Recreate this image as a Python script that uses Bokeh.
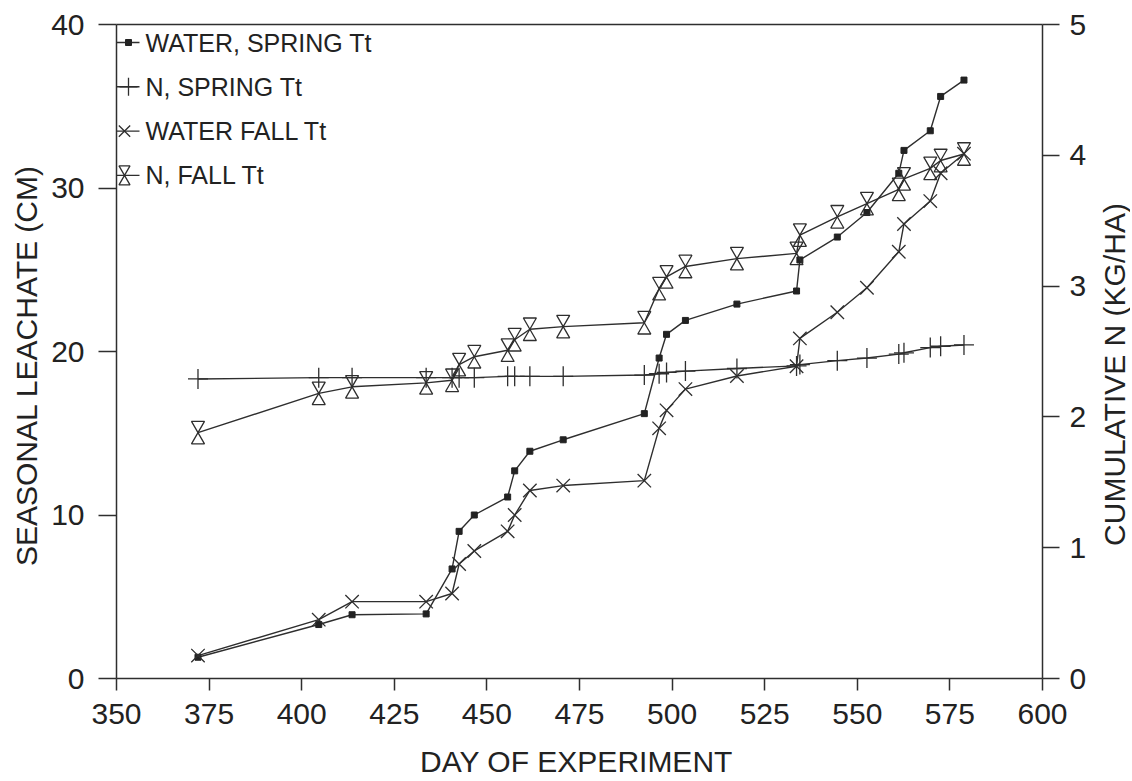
import math
from bokeh.plotting import figure
from bokeh.models import Range1d, LinearAxis, FixedTicker, Label
from bokeh.embed import file_html
from bokeh.resources import INLINE
from bokeh.core.properties import value

# ---------------- data ----------------
days = [372, 404.6, 413.6, 433.6, 440.6, 442.5, 446.6, 455.6, 457.5, 461.6,
        470.6, 492.5, 496.5, 498.5, 503.6, 517.5, 533.6, 534.5, 544.6, 552.6,
        561.2, 562.6, 569.7, 572.5, 578.8]

water_spring = [1.3, 3.3, 3.9, 3.95, 6.7, 9.0, 10.0, 11.1, 12.7, 13.9,
                14.6, 16.2, 19.6, 21.05, 21.9, 22.9, 23.7, 25.6, 27.0, 28.5,
                30.9, 32.3, 33.5, 35.6, 36.6]

n_spring = [2.29, 2.30, 2.30, 2.30, 2.30, 2.30, 2.30, 2.31, 2.31, 2.31,
            2.31, 2.32, 2.33, 2.34, 2.35, 2.37, 2.39, 2.40, 2.43, 2.45,
            2.48, 2.49, 2.53, 2.54, 2.55]

water_fall = [1.4, 3.6, 4.7, 4.7, 5.2, 7.0, 7.8, 9.0, 10.0, 11.5,
              11.8, 12.1, 15.3, 16.4, 17.7, 18.5, 19.1, 20.8, 22.4, 23.9,
              26.1, 27.8, 29.2, 30.9, 32.1]

n_fall = [1.88, 2.18, 2.23, 2.26, 2.28, 2.40, 2.46, 2.51, 2.59, 2.67,
          2.69, 2.72, 2.98, 3.07, 3.15, 3.21, 3.25, 3.39, 3.53, 3.63,
          3.74, 3.82, 3.90, 3.96, 4.01]

x_ticks = [350, 375, 400, 425, 450, 475, 500, 525, 550, 575, 600]
left_ticks = [0, 10, 20, 30, 40]
right_ticks = [0, 1, 2, 3, 4, 5]
legend_labels = ["WATER, SPRING Tt", "N, SPRING Tt", "WATER FALL Tt", "N, FALL Tt"]
x_title = "DAY OF EXPERIMENT"
left_title = "SEASONAL LEACHATE (CM)"
right_title = "CUMULATIVE N (KG/HA)"

# ---------------- layout ----------------
# The whole canvas is the frame; the axes sit at fixed data locations
# around the 350..600 x 0..40 data box.
W, H = 1130, 780                 # canvas size
BL, BT, PW, PH = 116, 24, 926, 654   # data box: left, top, width, height (px)
X0, X1 = 350, 600
Y0, Y1 = 0, 40
R0, R1 = 0, 5
dx = (X1 - X0) / PW
dy = (Y1 - Y0) / PH
dr = (R1 - R0) / PH
BB = H - BT - PH                 # px below the data box


def xd(px):
    return X0 + (px - BL) * dx


def yd(py):
    return Y1 - (py - BT) * dy


INK = "#222222"
LINE = "#2e2e2e"
FONT = "Liberation Sans"

p = figure(frame_width=W, frame_height=H,
           x_range=Range1d(X0 - BL * dx, X0 + (W - BL) * dx),
           y_range=Range1d(Y0 - BB * dy, Y1 + BT * dy),
           output_backend="svg", toolbar_location=None,
           min_border_left=0, min_border_top=0,
           min_border_right=0, min_border_bottom=0,
           background_fill_color="white", border_fill_color="white",
           outline_line_color=None)
p.extra_y_ranges = {"right": Range1d(R0 - BB * dr, R1 + BT * dr)}
r_ax = LinearAxis(y_range_name="right", fixed_location=X1, bounds=(R0, R1))
p.add_layout(r_ax, "right")

p.xgrid.visible = False
p.ygrid.visible = False


def style(ax, ticks, tick_out, lab_standoff, lab_size):
    ax.ticker = FixedTicker(ticks=ticks)
    ax.major_tick_out = tick_out
    ax.major_tick_in = 0
    ax.minor_tick_out = 0
    ax.minor_tick_in = 0
    ax.axis_line_color = LINE
    ax.axis_line_width = 1.5
    ax.major_tick_line_color = LINE
    ax.major_tick_line_width = 1.5
    ax.major_label_text_font = FONT
    ax.major_label_text_font_size = lab_size
    ax.major_label_text_color = INK
    ax.major_label_standoff = lab_standoff


bx = p.below[0]
bx.fixed_location = Y0
bx.bounds = (X0, X1)
style(bx, x_ticks, 12, 13, "30px")
lx = p.left[0]
lx.fixed_location = X0
lx.bounds = (Y0, Y1)
style(lx, left_ticks, 18, 14, "30px")
style(r_ax, right_ticks, 17, 10, "30px")

# top edge of the data box
p.segment(x0=[X0], y0=[Y1], x1=[X1], y1=[Y1], line_color=LINE, line_width=1.5)

# axis titles
p.add_layout(Label(x=xd(576), y=yd(761), text=x_title, text_font=FONT,
                   text_font_size="30px", text_color=INK,
                   text_align="center", text_baseline="middle"))
p.add_layout(Label(x=xd(26), y=yd(365), text=left_title, text_font=FONT,
                   text_font_size="30px", text_color=INK,
                   text_align="center", text_baseline="middle", angle=math.pi / 2))
p.add_layout(Label(x=xd(1114), y=yd(374), text=right_title, text_font=FONT,
                   text_font_size="30px", text_color=INK,
                   text_align="center", text_baseline="middle", angle=math.pi / 2))

# ---------------- series ----------------
LW = 1.4
# water, spring treatment (filled squares)
p.line(days, water_spring, line_color=LINE, line_width=LW)
p.scatter(days, water_spring, marker="square", size=6, fill_color=INK, line_color=INK)

# N, spring treatment (plus)
p.line(days, n_spring, line_color=LINE, line_width=LW, y_range_name="right")
p.scatter(days, n_spring, marker="cross", size=20, line_color=LINE, line_width=1.3,
          y_range_name="right")

# water, fall treatment (x)
p.line(days, water_fall, line_color=LINE, line_width=LW)
p.scatter(days, water_fall, marker="x", size=19, line_color=LINE, line_width=1.3)

# N, fall treatment (hourglass = two triangles tip to tip)
HG = 13
off_r = 2.0 / 3.0 * HG * math.sqrt(3) / 2.0 * dr
p.line(days, n_fall, line_color=LINE, line_width=LW, y_range_name="right")
p.scatter(days, [v + off_r for v in n_fall], marker="inverted_triangle", size=HG,
          fill_color=None, line_color=LINE, line_width=1.3, y_range_name="right")
p.scatter(days, [v - off_r for v in n_fall], marker="triangle", size=HG,
          fill_color=None, line_color=LINE, line_width=1.3, y_range_name="right")

# ---------------- legend (top-left corner of the data box) ----------------
rows = [Y1 - (18 + 44.3 * i) * dy for i in range(len(legend_labels))]
seg_x = [X0, X0 + 23 * dx]
mx = X0 + 12 * dx
for yc in rows:
    p.line(seg_x, [yc, yc], line_color=LINE, line_width=LW)
p.scatter([mx], [rows[0]], marker="square", size=6, fill_color=INK, line_color=INK)
p.scatter([mx], [rows[1]], marker="cross", size=18, line_color=LINE, line_width=1.3)
p.scatter([X0 + 8 * dx], [rows[2]], marker="x", size=16, line_color=LINE, line_width=1.3)
lg_hg = 11
lg_off = 2.0 / 3.0 * lg_hg * math.sqrt(3) / 2.0 * dy
p.scatter([X0 + 8 * dx], [rows[3] + lg_off], marker="inverted_triangle", size=lg_hg,
          fill_color=None, line_color=LINE, line_width=1.3)
p.scatter([X0 + 8 * dx], [rows[3] - lg_off], marker="triangle", size=lg_hg,
          fill_color=None, line_color=LINE, line_width=1.3)
p.text([X0 + 29 * dx] * len(rows), rows, text=legend_labels,
       text_font=value(FONT), text_font_size="25px", text_color=INK,
       text_baseline="middle", text_align="left")

open("out.html", "w").write(file_html(p, INLINE))
